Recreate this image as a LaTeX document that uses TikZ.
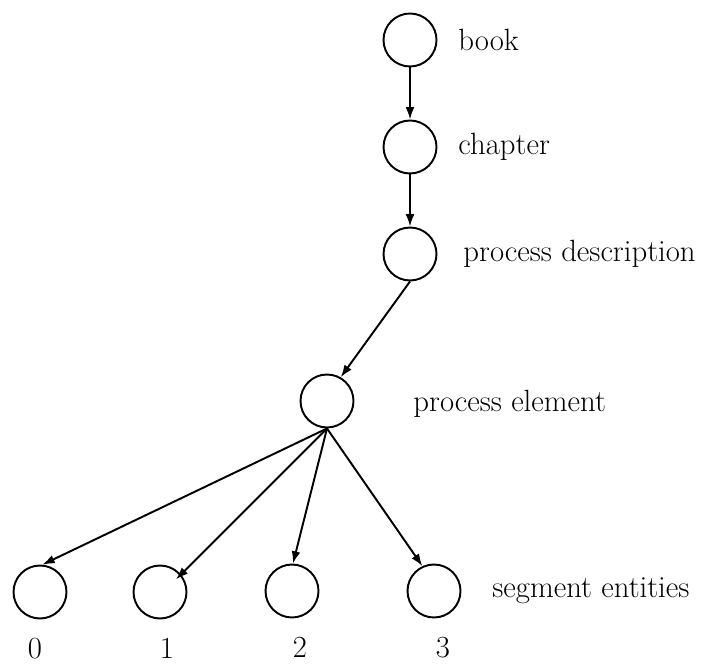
\documentclass[tikz,border=0pt]{standalone}
\usepackage{tikz}
\usetikzlibrary{arrows.meta}
\usetikzlibrary{positioning}
\tikzstyle{ent} = [draw,circle,inner sep=0pt,minimum size=1.06cm]
\tikzstyle{lbl} = [inner sep=0pt,font=\fontsize{17.5}{21}\selectfont]

\begin{document}
\begin{tikzpicture}[->,>={Latex[length=7pt,width=5pt]},line width=1.1pt,x=0.02cm,y=-0.02cm]
\useasboundingbox (0,0) rectangle (709,665);

\node[ent] (book) at (410,40)  {};
\node[ent] (chap) at (410,147) {};
\node[ent] (pd)   at (410,254) {};
\node[ent] (pe)   at (327,401) {};
\node[ent] (s0)   at (40,592)  {};
\node[ent] (s1)   at (160,592) {};
\node[ent] (s2)   at (292,591) {};
\node[ent] (s3)   at (434,591) {};

\node[lbl][right=0.4cm of book](tbook){book};
\node[lbl][right=0.4cm of chap](tchap){chapter};
\node[lbl][right=0.5cm of pd](tpd){process description};
\node[lbl][right=1.16cm of pe, yshift=-0.05cm](tpe){process element};
\node[lbl][right=0.6cm of s3](tseg){segment entities};

\node[lbl][below=0.36cm of s0, xshift=-0.1cm](n0){0};
\node[lbl][below=0.36cm of s1, xshift=0.14cm](n1){1};
\node[lbl][below=0.36cm of s2, xshift=0.16cm](n2){2};
\node[lbl][below=0.36cm of s3, xshift=0.18cm](n3){3};

\path
	(book) edge (chap)
	(chap) edge (pd)
	(pd.south) edge (pe.60);

\path
	(pe.south) edge (s0.85)
	(pe.south) edge[shorten >=-4pt] (s1.40)
	(pe.south) edge (s2.88)
	(pe.south) edge (s3.115);

\end{tikzpicture}
\end{document}
